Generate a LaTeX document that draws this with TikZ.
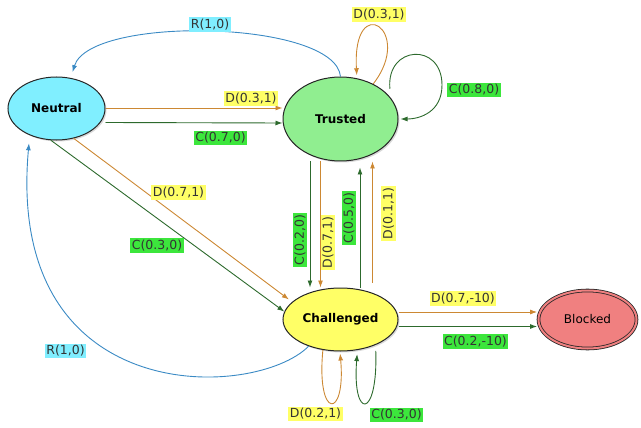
\documentclass[tikz,border=0pt]{standalone}
\usepackage{fontspec}
\setmainfont{DejaVu Sans}
\usetikzlibrary{shapes.geometric,arrows.meta,shadows}
\definecolor{neufill}{HTML}{80EFFF}
\definecolor{trufill}{HTML}{90EE90}
\definecolor{chafill}{HTML}{FFFF66}
\definecolor{blkfill}{HTML}{F08080}
\definecolor{dline}{HTML}{CC8833}
\definecolor{cline}{HTML}{2D6A2D}
\definecolor{rline}{HTML}{3A8AC4}
\definecolor{dlabel}{HTML}{FFFF66}
\definecolor{clabel}{HTML}{3CE63C}
\definecolor{rlabel}{HTML}{80EEFF}
\begin{document}
\begin{tikzpicture}[x=1pt,y=-1pt,
  state/.style={ellipse,draw=black!85,line width=1pt,inner sep=0pt,font=\fontsize{12}{14}\selectfont\bfseries,drop shadow={shadow xshift=1.5pt,shadow yshift=-1.5pt,opacity=.3}},
  lab/.style={inner sep=1.5pt,font=\fontsize{12.5}{14}\selectfont,text=black!80},
  dl/.style={lab,fill=dlabel}, cl/.style={lab,fill=clabel}, rl/.style={lab,fill=rlabel},
  dd/.style={draw=dline,line width=.9pt,-{Latex[length=7pt,width=5pt]}},
  cc/.style={draw=cline,line width=.9pt,-{Latex[length=7pt,width=5pt]}},
  rr/.style={draw=rline,line width=.9pt,-{Latex[length=7pt,width=5pt]}}]
\useasboundingbox (0,0) rectangle (641,428);
\node[state,fill=neufill,minimum width=97pt,minimum height=63pt] (neu) at (56.5,108.5) {Neutral};
\node[state,fill=trufill,minimum width=115pt,minimum height=84pt] (tru) at (340.5,119) {Trusted};
\node[state,fill=chafill,minimum width=115pt,minimum height=63pt] (cha) at (340.5,319.5) {Challenged};
\node[state,fill=blkfill,double=blkfill,double distance=2pt,line width=.8pt,minimum width=98pt,minimum height=58pt,font=\fontsize{12}{14}\selectfont] (blk) at (587.5,319.5) {Blocked};
\draw[dd] ([yshift=.5pt]neu.east) -- ([yshift=11pt]tru.west);
\draw[cc] ([yshift=-14pt]neu.east) -- ([yshift=-4pt]tru.west);
\draw[rr,shorten >=6pt] (tru.north) .. controls (335,20) and (90,15) .. (neu.65);
\draw[dd,shorten >=4pt] (neu.-60) -- (cha.160);
\draw[cc] (neu.-100) -- (cha.172);
\draw[rr,shorten >=8pt] (cha.-140) .. controls (255,400) and (5,410) .. (neu.-135);
\draw[cc] ([xshift=-30.5pt]tru.south) -- ([xshift=-30.5pt]cha.north);
\draw[dd] ([xshift=-20pt]tru.south) -- ([xshift=-20pt]cha.north);
\draw[cc,shorten >=6pt] ([xshift=19.5pt]cha.north) -- ([xshift=19.5pt]tru.south);
\draw[dd,shorten <=5pt] ([xshift=32pt]cha.north) -- ([xshift=32pt]tru.south);
\draw[dd,shorten >=3pt] (tru.47) .. controls (415,30) and (352,-10) .. (tru.68);
\draw[cc,shorten <=9pt,shorten >=2pt] (tru.23) .. controls (386,45) and (442,42) .. (442,85) .. controls (442,112) and (420,119) .. (tru.east);
\draw[dd,shorten >=2pt] (cha.-120) .. controls (316,420) and (346,420) .. (cha.-91);
\draw[cc,shorten <=6pt,shorten >=4pt] (cha.-36) .. controls (378,420) and (352,420) .. (cha.-61);
\draw[dd,shorten >=1pt] ([yshift=7.5pt]cha.east) -- ([yshift=7.5pt]blk.west);
\draw[cc,shorten >=1pt] ([yshift=-7pt]cha.east) -- ([yshift=-7pt]blk.west);
\node[rl] (rtop) at (210,24.5) {R(1,0)};
\node[dl] (dnt) at (251,98.5) {D(0.3,1)};
\node[cl] (cnt) at (220.5,138) {C(0.7,0)};
\node[dl] (dnc) at (178.5,192.5) {D(0.7,1)};
\node[cl] (cnc) at (157,245.5) {C(0.3,0)};
\node[rl] (rbot) at (65.5,351) {R(1,0)};
\node[dl] (dtt) at (379,14.5) {D(0.3,1)};
\node[cl] (ctt) at (474,90) {C(0.8,0)};
\node[dl] (dcb) at (463,298.5) {D(0.7,-10)};
\node[cl] (ccb) at (475.5,341.5) {C(0.2,-10)};
\node[dl] (dcc) at (315.5,414) {D(0.2,1)};
\node[cl] (ccc) at (396.5,415) {C(0.3,0)};
\node[cl,rotate=90] (ctc) at (300,240) {C(0.2,0)};
\node[dl,rotate=90] (dtc) at (328,242.5) {D(0.7,1)};
\node[cl,rotate=90] (cct) at (349,218) {C(0.5,0)};
\node[dl,rotate=90] (dct) at (388.5,213.5) {D(0.1,1)};
\end{tikzpicture}
\end{document}
